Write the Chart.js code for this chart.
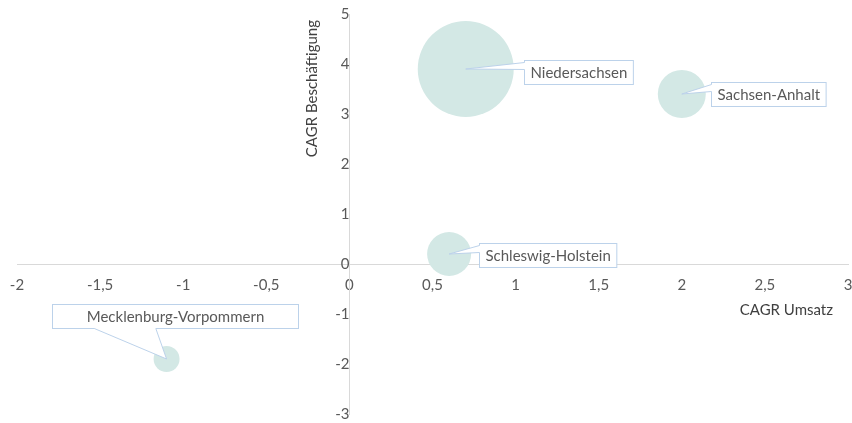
<!DOCTYPE html>
<html>
<head>
<meta charset="utf-8">
<script src="https://cdn.jsdelivr.net/npm/chart.js@4"></script>
<style>
  html, body { margin: 0; padding: 0; background: #fff; }
  #wrap { width: 852px; height: 423px; }
</style>
</head>
<body>
<div id="wrap"><canvas id="bubbleChart"></canvas></div>
<script>
// Bundesländer with growth rates (CAGR) and bubble size
const regions = ['Niedersachsen', 'Sachsen-Anhalt', 'Schleswig-Holstein', 'Mecklenburg-Vorpommern'];
const cagrUmsatz = [0.7, 2.0, 0.6, -1.1];
const cagrBeschaeftigung = [3.9, 3.4, 0.2, -1.9];
const bubbleSizes = [100, 25, 21, 7.3];

// where the callout boxes sit (in axis units)
const labelX = [1.38, 2.52, 1.19, -1.05];
const labelY = [3.85, 3.39, 0.19, -1.03];

const xTicks = { min: -2, max: 3, step: 0.5 };
const yTicks = { min: -3, max: 5, step: 1 };

const xTitle = 'CAGR Umsatz';
const yTitle = 'CAGR Beschäftigung';

const FONT = 'Lato, "Open Sans", sans-serif';
const FONT_SIZE = 15;
const maxRadius = 48;
const calloutMinWidth = [0, 0, 0, 246];

const fmt = v => String(Math.round(v * 10) / 10).replace('.', ',');

// axes cross at zero, so they must not take space from the plot area
const noSpace = scale => {
    if (scale.isHorizontal()) scale.height = 0; else scale.width = 0;
    scale.paddingLeft = 0;
    scale.paddingRight = 0;
    scale.paddingTop = 0;
    scale.paddingBottom = 0;
};

// axis titles placed like in Excel (end of the axes)
const titlePlugin = {
    id: 'axisTitles',
    afterDraw(chart) {
        const ctx = chart.ctx;
        const area = chart.chartArea;
        const x0 = chart.scales.x.getPixelForValue(0);
        const y0 = chart.scales.y.getPixelForValue(0);
        ctx.save();
        ctx.font = FONT_SIZE + 'px ' + FONT;
        ctx.fillStyle = '#404040';
        ctx.textBaseline = 'middle';
        ctx.textAlign = 'right';
        ctx.fillText(xTitle, area.right - 15, y0 + 46);
        ctx.translate(x0 - 37, area.top + 6);
        ctx.rotate(-Math.PI / 2);
        ctx.fillText(yTitle, 0, 0);
        ctx.restore();
    }
};

// draws Excel-like callouts with a wedge pointing at the bubble
const calloutPlugin = {
    id: 'callouts',
    afterDatasetsDraw(chart) {
        const ctx = chart.ctx;
        const meta = chart.getDatasetMeta(0);
        const xs = chart.scales.x, ys = chart.scales.y;
        ctx.save();
        ctx.font = FONT_SIZE + 'px ' + FONT;
        regions.forEach((name, i) => {
            const pt = meta.data[i];
            const cx = pt.x, cy = pt.y;
            const bx = xs.getPixelForValue(labelX[i]);
            const by = ys.getPixelForValue(labelY[i]);
            const w = Math.max(ctx.measureText(name).width + 12, calloutMinWidth[i]);
            const h = 24;
            const left = Math.round(bx - w / 2) + 0.5, top = Math.round(by - h / 2) + 0.5;

            // box
            ctx.fillStyle = '#ffffff';
            ctx.strokeStyle = '#BCD2EA';
            ctx.lineWidth = 1;
            ctx.fillRect(left, top, w, h);
            ctx.strokeRect(left, top, w, h);

            // wedge
            let p1, p2, q1, q2;
            if (left > cx) {
                p1 = [left, top + 2]; p2 = [left, top + 9];
                q1 = [left + 2, top + 2]; q2 = [left + 2, top + 9];
            } else {
                p1 = [left + w * 0.17, top + h]; p2 = [left + w * 0.42, top + h];
                q1 = [p1[0], top + h - 2]; q2 = [p2[0], top + h - 2];
            }
            ctx.beginPath();
            ctx.moveTo(cx, cy);
            ctx.lineTo(p1[0], p1[1]);
            ctx.lineTo(q1[0], q1[1]);
            ctx.lineTo(q2[0], q2[1]);
            ctx.lineTo(p2[0], p2[1]);
            ctx.closePath();
            ctx.fill();
            ctx.beginPath();
            ctx.moveTo(p1[0], p1[1]);
            ctx.lineTo(cx, cy);
            ctx.lineTo(p2[0], p2[1]);
            ctx.stroke();

            // text
            ctx.fillStyle = '#595959';
            ctx.textAlign = 'center';
            ctx.textBaseline = 'middle';
            ctx.fillText(name, left + w / 2, top + h / 2 + 1);
        });
        ctx.restore();
    }
};

const points = regions.map((name, i) => ({
    x: cagrUmsatz[i],
    y: cagrBeschaeftigung[i],
    r: maxRadius * Math.sqrt(bubbleSizes[i] / Math.max(...bubbleSizes))
}));

const ctx = document.getElementById('bubbleChart').getContext('2d');
new Chart(ctx, {
    type: 'bubble',
    data: {
        datasets: [{
            label: 'Regionen',
            data: points,
            backgroundColor: '#D3E8E5',
            borderWidth: 0,
            clip: false
        }]
    },
    options: {
        responsive: true,
        maintainAspectRatio: false,
        animation: false,
        layout: { autoPadding: false, padding: { left: 17, right: 4, top: 14, bottom: 9 } },
        plugins: {
            legend: { display: false },
            tooltip: { enabled: false }
        },
        scales: {
            x: {
                type: 'linear',
                position: { y: 0 },
                min: xTicks.min,
                max: xTicks.max,
                afterFit: noSpace,
                grid: { display: false },
                border: { display: true, color: '#D9D9D9', width: 1 },
                ticks: {
                    stepSize: xTicks.step,
                    padding: 4,
                    color: '#595959',
                    font: { family: FONT, size: FONT_SIZE },
                    maxRotation: 0,
                    autoSkip: false,
                    callback: v => fmt(v)
                }
            },
            y: {
                type: 'linear',
                position: { x: 0 },
                min: yTicks.min,
                max: yTicks.max,
                afterFit: noSpace,
                grid: { display: false },
                border: { display: true, color: '#D9D9D9', width: 1 },
                ticks: {
                    stepSize: yTicks.step,
                    padding: 14,
                    color: '#595959',
                    font: { family: FONT, size: FONT_SIZE },
                    callback: v => fmt(v)
                }
            }
        }
    },
    plugins: [calloutPlugin, titlePlugin]
});
</script>
</body>
</html>
